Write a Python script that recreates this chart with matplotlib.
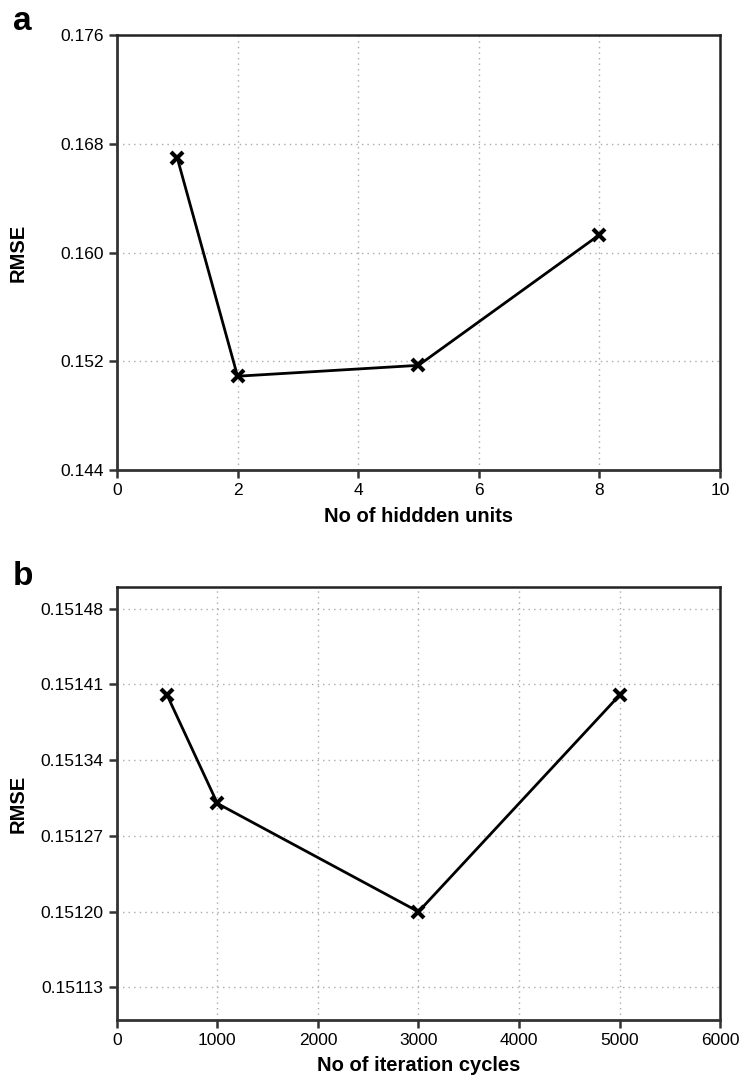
import matplotlib
matplotlib.use("Agg")
import matplotlib.pyplot as plt
import numpy as np

plt.rcParams['font.family'] = ['Liberation Sans', 'DejaVu Sans']

# Panel a data
hidden_units = [1, 2, 5, 8]
rmse_a = [0.16697, 0.1509, 0.1517, 0.1613]
a_yticks = [0.144, 0.152, 0.160, 0.168, 0.176]
a_xticks = [0, 2, 4, 6, 8, 10]

# Panel b data
iter_cycles = [500, 1000, 3000, 5000]
rmse_b = [0.15140, 0.15130, 0.15120, 0.15140]
b_yticks = [0.15113, 0.15120, 0.15127, 0.15134, 0.15141, 0.15148]
b_xticks = [0, 1000, 2000, 3000, 4000, 5000, 6000]

fig = plt.figure(figsize=(7.4, 10.83), dpi=100)
ax_a = fig.add_axes([0.158, 0.566, 0.815, 0.4017])
ax_b = fig.add_axes([0.158, 0.0582, 0.815, 0.3998])

def style(ax):
    ax.grid(True, linestyle=(0, (1, 3)), color='#aaaaaa', linewidth=1.0)
    ax.set_axisbelow(True)
    for s in ['left', 'bottom']:
        ax.spines[s].set_linewidth(2.0)
        ax.spines[s].set_color('#333333')
    for s in ['top', 'right']:
        ax.spines[s].set_linewidth(1.8)
        ax.spines[s].set_color('#222222')
    ax.tick_params(axis='both', direction='out', length=6, width=1.8,
                   color='#333333', labelsize=12.5, pad=3.5)
    ax.tick_params(top=False, right=False)

# Panel a
ax_a.plot(hidden_units, rmse_a, color='black', linewidth=2.0, marker='x',
          markersize=8, markeredgewidth=3, zorder=3)
ax_a.set_xlim(0, 10)
ax_a.set_ylim(0.144, 0.176)
ax_a.set_xticks(a_xticks)
ax_a.set_xticklabels([str(v) for v in a_xticks])
ax_a.set_yticks(a_yticks)
ax_a.set_yticklabels([f"{v:.3f}" for v in a_yticks])
style(ax_a)
ax_a.spines['top'].set_linestyle((0, (3, 1)))
ax_a.set_xlabel('No of hiddden units', fontsize=14.5, fontweight='bold', labelpad=6)
ax_a.set_ylabel('RMSE', fontsize=14.5, fontweight='bold')
ax_a.yaxis.set_label_coords(-0.148, 0.5)
fig.text(0.0176, 1 - 30 / 1083, 'a', fontsize=24, fontweight='bold', va='baseline', ha='left')

# Panel b
ax_b.plot(iter_cycles, rmse_b, color='black', linewidth=2.0, marker='x',
          markersize=8, markeredgewidth=3, zorder=3)
ax_b.set_xlim(0, 6000)
ax_b.set_ylim(0.1511, 0.1515)
ax_b.set_xticks(b_xticks)
ax_b.set_xticklabels([str(v) for v in b_xticks])
ax_b.set_yticks(b_yticks)
ax_b.set_yticklabels([f"{v:.5f}" for v in b_yticks])
style(ax_b)
ax_b.set_xlabel('No of iteration cycles', fontsize=14.5, fontweight='bold', labelpad=6)
ax_b.set_ylabel('RMSE', fontsize=14.5, fontweight='bold')
ax_b.yaxis.set_label_coords(-0.148, 0.5)
fig.text(0.0176, 1 - 585 / 1083, 'b', fontsize=24, fontweight='bold', va='baseline', ha='left')

fig.savefig('out.png', dpi=100)
